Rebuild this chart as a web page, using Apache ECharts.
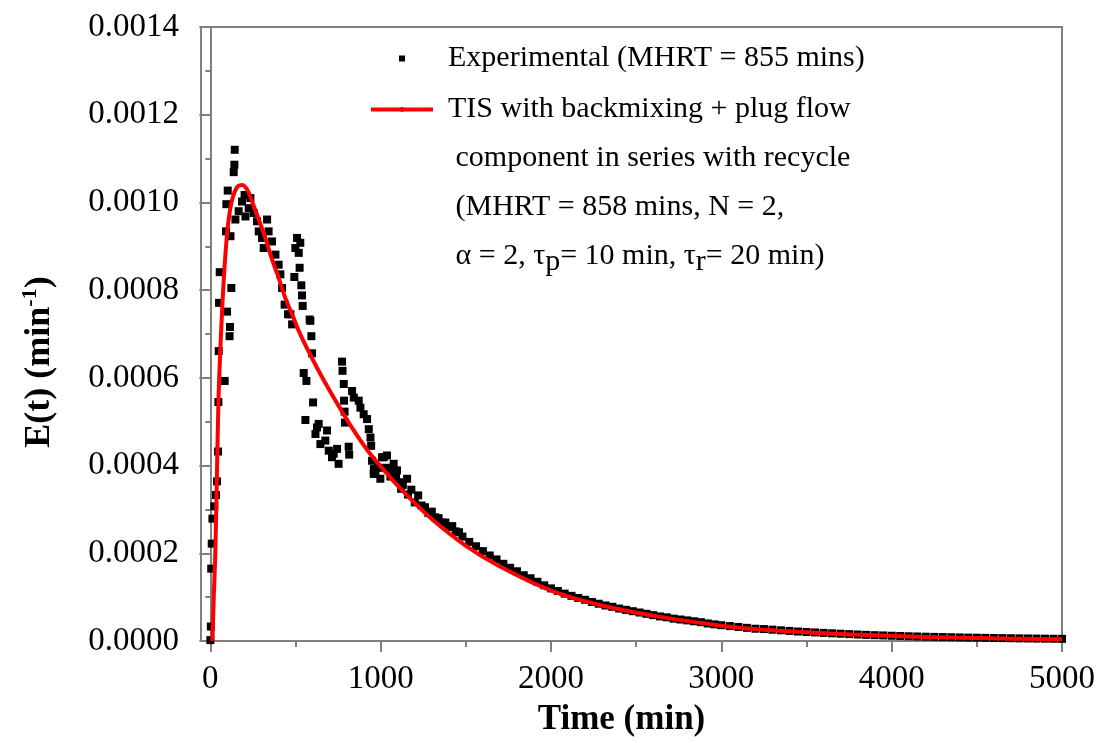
<!DOCTYPE html>
<html>
<head>
<meta charset="utf-8">
<script src="https://cdn.jsdelivr.net/npm/echarts@6/dist/echarts.min.js"></script>
<style>
  html, body { margin: 0; padding: 0; background: #fff; }
  #chart { width: 1104px; height: 743px; }
</style>
</head>
<body>
<div id="chart"></div>
<script>
// tick labels
const xTicks = [0, 1000, 2000, 3000, 4000, 5000];
const xMinorTicks = [500, 1500, 2500, 3500, 4500];
const yTicks = [0, 0.0002, 0.0004, 0.0006, 0.0008, 0.0010, 0.0012, 0.0014];
const yMinorTicks = [0.0001, 0.0003, 0.0005, 0.0007, 0.0009, 0.0011, 0.0013];

// experimental E(t), time in min
const expTime = [
  0, 3, 5, 8, 12, 23, 33, 39, 45, 47, 49, 51, 55, 84, 92, 94, 98, 102, 113, 115,
  118, 123, 137, 141, 143, 147, 166, 186, 201, 206, 225, 235, 254, 274, 284, 303, 313, 333, 342, 362,
  382, 401, 411, 421, 436, 456, 470, 480, 493, 499, 509, 519, 524, 528, 534, 538, 542, 548, 558, 564,
  583, 587, 593, 597, 603, 617, 626, 636, 646, 675, 685, 695, 714, 724, 744, 753, 773, 776, 783, 785,
  788, 790, 812, 815, 832, 842, 871, 881, 900, 920, 930, 940, 944, 949, 959, 960, 969, 985, 998, 1008,
  1018, 1030, 1037, 1050, 1057, 1070, 1076, 1090, 1096, 1110, 1130, 1155, 1180, 1220, 1260, 1300, 1340, 1380, 1420, 1460,
  1120, 1160, 1200, 1240, 1280, 1320, 1360, 1400, 1440, 1480, 1520, 1560, 1600, 1640, 1680, 1720, 1760, 1800, 1840, 1880,
  1920, 1960, 2000, 2040, 2080, 2120, 2160, 2200, 2240, 2280, 2320, 2360, 2400, 2440, 2480, 2520, 2560, 2600, 2640, 2680,
  2720, 2760, 2800, 2840, 2880, 2920, 2960, 3000, 3050, 3100, 3150, 3200, 3250, 3300, 3350, 3400, 3450, 3500, 3550, 3600,
  3650, 3700, 3750, 3800, 3850, 3900, 3950, 4000, 4050, 4100, 4150, 4200, 4250, 4300, 4350, 4400, 4450, 4500, 4550, 4600,
  4650, 4700, 4750, 4800, 4850, 4900, 4950, 5000
];
const expValue = [
  0.000002, 0.000033, 0.000165, 0.000222, 0.000279, 0.000307, 0.000333, 0.000364, 0.000432, 0.000545, 0.000661, 0.000771, 0.000841, 0.000593, 0.000934, 0.000996, 0.000751, 0.001027, 0.000695, 0.000716,
  0.000923, 0.000805, 0.001069, 0.001086, 0.00112, 0.000961, 0.00098, 0.001002, 0.001017, 0.000968, 0.000987, 0.00101, 0.000976, 0.000957, 0.000934, 0.000919, 0.000896, 0.000961, 0.000934, 0.000911,
  0.000881, 0.000858, 0.000836, 0.000805, 0.000767, 0.000745, 0.000745, 0.000722, 0.00083, 0.000896, 0.000919, 0.000885, 0.000851, 0.000908, 0.000811, 0.000788, 0.000764, 0.000611, 0.000504, 0.000593,
  0.000733, 0.00073, 0.000695, 0.000656, 0.000544, 0.000472, 0.000487, 0.000495, 0.000449, 0.000457, 0.00048, 0.000434, 0.000419, 0.000427, 0.000438, 0.000404, 0.000637, 0.000616, 0.000586, 0.000548,
  0.000523, 0.000498, 0.000443, 0.000425, 0.00057, 0.000555, 0.000548, 0.000532, 0.000517, 0.000506, 0.000483, 0.000464, 0.000445, 0.000411, 0.000381, 0.000392, 0.000382, 0.000395, 0.00037, 0.000419,
  0.000419, 0.000395, 0.000423, 0.000392, 0.000375, 0.000382, 0.000404, 0.000372, 0.000389, 0.000362, 0.000356, 0.00037, 0.000345, 0.000332, 0.000305, 0.000295, 0.00028, 0.00027, 0.000262, 0.000248,
  0.000347, 0.000334, 0.000316, 0.000309, 0.000292, 0.000282, 0.00027, 0.00026, 0.00025, 0.000238, 0.000226, 0.000216, 0.000205, 0.000195, 0.000186, 0.000176, 0.000167, 0.000159, 0.00015, 0.000143,
  0.000135, 0.000127, 0.00012, 0.000114, 0.000108, 0.000103, 0.000098, 0.000094, 0.000089, 0.000085, 0.000081, 0.000078, 0.000074, 0.000071, 0.000068, 0.000065, 0.000062, 0.000059, 0.000056, 0.000054,
  0.000051, 0.000049, 0.000047, 0.000045, 0.000043, 0.00004, 0.000038, 0.000036, 0.000034, 0.000032, 0.00003, 0.000028, 0.0000272, 0.0000258, 0.0000244, 0.000023, 0.0000216, 0.0000205, 0.0000195, 0.0000185,
  0.0000175, 0.0000166, 0.0000157, 0.0000148, 0.000014, 0.0000133, 0.0000127, 0.000012, 0.0000114, 0.0000108, 0.0000103, 0.0000098, 0.0000094, 0.000009, 0.0000086, 0.0000082, 0.0000078, 0.0000075, 0.0000072, 0.0000069,
  0.0000066, 0.0000063, 0.000006, 0.0000058, 0.0000055, 0.0000053, 0.0000051, 0.0000049
];

// model curve (TIS with backmixing + plug flow + recycle)
const modelTime = [
  12, 20, 29, 38, 47, 56, 66, 78, 92, 107, 127, 157, 186, 215, 245, 284, 323, 362, 401, 440,
  480, 528, 626, 724, 822, 920, 1020, 1135, 1300, 1500, 1700, 2000, 2300, 2642, 3000, 3230, 3500, 3817, 4200, 4600, 5000
];
const modelValue = [
  0, 0.0001, 0.0002, 0.00037, 0.00054, 0.00064, 0.00073, 0.00082, 0.0009, 0.00096, 0.001005, 0.001035, 0.00104, 0.00103, 0.001002, 0.000961, 0.000919, 0.00087, 0.000828, 0.000782,
  0.000745, 0.000699, 0.000623, 0.000555, 0.000492, 0.000436, 0.000389, 0.00034, 0.000278, 0.000217, 0.00017, 0.000115, 0.000081, 0.000055, 0.000035, 0.000026, 0.00002, 0.000014, 0.000009, 0.000006, 0.0000042
];

const expName = 'Experimental (MHRT = 855 mins)';
const modelName = 'TIS with backmixing + plug flow';
const modelLegend = [
  'TIS with backmixing + plug flow',
  ' component in series with recycle',
  ' (MHRT = 858 mins, N = 2,',
  ' \u03b1 = 2, \u03c4{sub|p}= 10 min, \u03c4{sub|r}= 20 min)'
];

const FONT = '"Liberation Serif", "Times New Roman", serif';
const GRAY = '#808080';

const chart = echarts.init(document.getElementById('chart'));

const xMin = -55, xMax = 5000, yMin = 0, yMax = 0.0014;

chart.setOption({
  animation: false,
  backgroundColor: '#fff',
  grid: {
    left: 201, right: 42, top: 27, bottom: 102,
    show: true, borderColor: GRAY, borderWidth: 2
  },
  legend: {
    orient: 'vertical',
    left: 369,
    top: -62,
    padding: 0,
    itemGap: -145,
    itemWidth: 62,
    itemHeight: 6,
    selectedMode: false,
    textStyle: {
      fontFamily: FONT, fontSize: 30, color: '#000', lineHeight: 49,
      rich: {
        sub: { fontFamily: FONT, fontSize: 30, lineHeight: 37, padding: [12, 0, 0, 0] }
      }
    },
    formatter: function (name) {
      if (name === modelName) return modelLegend.join('\n');
      return name;
    },
    data: [
      { name: expName, icon: 'path://M0,0L10,0L10,10L0,10Z', textStyle: { padding: [0, 0, 0, 10] } },
      { name: modelName, lineStyle: { width: 4, color: '#ff0000' }, textStyle: { padding: [147, 0, 0, 10] } }
    ]
  },
  xAxis: [{
    type: 'value', min: xMin, max: xMax,
    name: 'Time (min)', nameLocation: 'middle', nameGap: 61,
    nameTextStyle: { fontFamily: FONT, fontSize: 35, fontWeight: 'bold', color: '#000', padding: [0, 20, 0, 0] },
    axisLine: { lineStyle: { color: GRAY, width: 2 } },
    axisTick: { customValues: xTicks, length: 11, lineStyle: { color: GRAY, width: 2 } },
    axisLabel: {
      customValues: xTicks, margin: 22, fontFamily: FONT, fontSize: 33, color: '#000',
      formatter: function (v) { return String(v); }
    },
    splitLine: { show: false }
  }, {
    type: 'value', min: xMin, max: xMax, position: 'bottom',
    axisLine: { show: false },
    axisTick: { customValues: xMinorTicks, length: 6, lineStyle: { color: GRAY, width: 2 } },
    axisLabel: { show: false },
    splitLine: { show: false }
  }],
  yAxis: [{
    type: 'value', min: yMin, max: yMax,
    name: 'E(t) (min{sup|-1})', nameLocation: 'middle', nameGap: 140,
    nameTextStyle: {
      fontFamily: FONT, fontSize: 36, fontWeight: 'bold', color: '#000',
      padding: [0, 56, 0, 0],
      rich: { sup: { fontFamily: FONT, fontSize: 22, fontWeight: 'bold', padding: [0, 0, 20, 0] } }
    },
    axisLine: { lineStyle: { color: GRAY, width: 2 } },
    axisTick: { customValues: yTicks, length: 11, lineStyle: { color: GRAY, width: 2 } },
    axisLabel: {
      customValues: yTicks, margin: 22, fontFamily: FONT, fontSize: 33, color: '#000',
      formatter: function (v) { return v.toFixed(4); }
    },
    splitLine: { show: false }
  }, {
    type: 'value', min: yMin, max: yMax, position: 'left',
    axisLine: { show: false },
    axisTick: { customValues: yMinorTicks, length: 5, lineStyle: { color: GRAY, width: 2 } },
    axisLabel: { show: false },
    splitLine: { show: false }
  }],
  series: [{
    name: expName,
    type: 'scatter',
    symbol: 'rect',
    symbolSize: 8,
    itemStyle: { color: '#000', opacity: 1 },
    data: expTime.map(function (t, i) { return [t, expValue[i]]; }),
    z: 2
  }, {
    name: modelName,
    type: 'line',
    smooth: 0.4,
    symbol: 'circle',
    showSymbol: false,
    lineStyle: { color: '#ff0000', width: 4 },
    itemStyle: { color: '#ff0000' },
    data: modelTime.map(function (t, i) { return [t, modelValue[i]]; }),
    z: 3
  }]
});
</script>
</body>
</html>
